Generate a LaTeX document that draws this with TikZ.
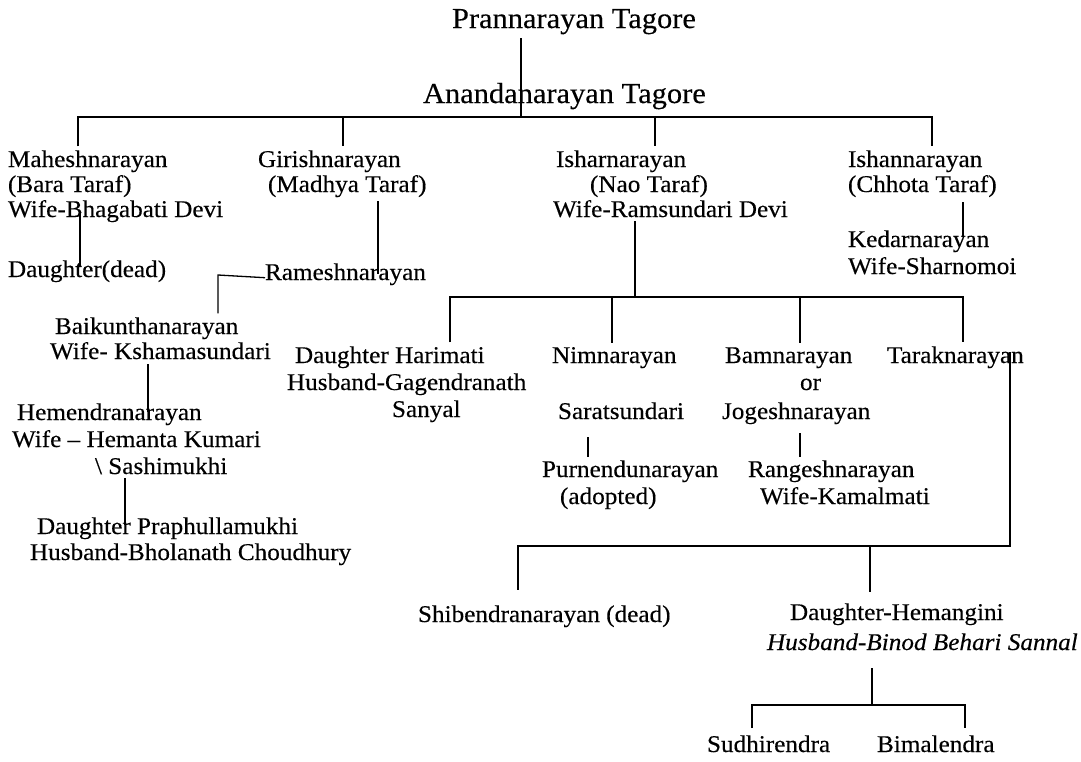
\documentclass[tikz,border=0pt]{standalone}
\usepackage{fontspec}
\setmainfont{Liberation Serif}[FakeStretch=1.05, FakeBold=0.3]
\begin{document}
\begin{tikzpicture}[x=1pt,y=-1pt,
  person/.style={anchor=base west, inner sep=0pt, outer xsep=0pt, outer ysep=4pt,
                 font=\fontsize{24}{26}\selectfont},
  elder/.style={person, font=\fontsize{29}{32}\selectfont},
  link/.style={line width=1.3pt}]
\useasboundingbox (0,0) rectangle (1081,761);

% ---- founders ----
\node[elder] (pran) at (452,28)  {Prannarayan Tagore};
\node[elder] (anan) at (423,103) {Anandanarayan Tagore};

% ---- the four branches ----
\node[person] (mah1)  at (8,167)   {Maheshnarayan};
\node[person] (mah2)  at (8,192)   {(Bara Taraf)};
\node[person] (mah3)  at (8,217)   {Wife-Bhagabati Devi};
\node[person] (gir1)  at (258,167) {Girishnarayan};
\node[person] (gir2)  at (268,192) {(Madhya Taraf)};
\node[person] (ish1)  at (556,167) {Isharnarayan};
\node[person] (ish2)  at (590,192) {(Nao Taraf)};
\node[person] (ish3)  at (553,217) {Wife-Ramsundari Devi};
\node[person] (ishn1) at (848,167) {Ishannarayan};
\node[person] (ishn2) at (848,192) {(Chhota Taraf)};

% ---- Chhota Taraf ----
\node[person] (ked1) at (848,247) {Kedarnarayan};
\node[person] (ked2) at (848,274) {Wife-Sharnomoi};

% ---- Bara and Madhya Taraf ----
\node[person] (mdau) at (8,277)   {Daughter(dead)};
\node[person] (ram)  at (265,280) {Rameshnarayan};
\node[person] (bai1) at (55,334)  {Baikunthanarayan};
\node[person] (bai2) at (50,359)  {Wife- Kshamasundari};
\node[person] (hem1) at (17,420)  {Hemendranarayan};
\node[person] (hem2) at (12,447)  {Wife – Hemanta Kumari};
\node[person] (hem3) at (95,474)  {\textbackslash{} Sashimukhi};
\node[person] (pra1) at (37,534)  {Daughter Praphullamukhi};
\node[person] (pra2) at (30,560)  {Husband-Bholanath Choudhury};

% ---- Nao Taraf ----
\node[person] (har1) at (295,363) {Daughter Harimati};
\node[person] (har2) at (287,390) {Husband-Gagendranath};
\node[person] (har3) at (392,417) {Sanyal};
\node[person] (nim1) at (552,363) {Nimnarayan};
\node[person] (nim2) at (558,419) {Saratsundari};
\node[person] (pur1) at (542,477) {Purnendunarayan};
\node[person] (pur2) at (560,504) {(adopted)};
\node[person] (bam1) at (725,363) {Bamnarayan};
\node[person] (bam2) at (800,390) {or};
\node[person] (bam3) at (722,419) {Jogeshnarayan};
\node[person] (ran1) at (748,477) {Rangeshnarayan};
\node[person] (ran2) at (760,504) {Wife-Kamalmati};
\node[person] (tar)  at (887,363) {Taraknarayan};
\node[person] (shi)  at (418,622) {Shibendranarayan (dead)};
\node[person] (hmg1) at (790,620) {Daughter-Hemangini};
\node[person] (hmg2) at (767,650) {\itshape Husband-Binod Behari Sannal};
\node[person] (sud)  at (707,752) {Sudhirendra};
\node[person] (bim)  at (877,752) {Bimalendra};

% ---- junction points ----
\coordinate (b1A) at (521,117);
\coordinate (b1M) at (78,117);
\coordinate (b1G) at (343,117);
\coordinate (b1I) at (655,117);
\coordinate (b1S) at (932,117);

\coordinate (mvT) at (80,212);   \coordinate (mvB) at (80,266);
\coordinate (gvB) at (378,274);
\coordinate (rhk) at (218,275);
\coordinate (bvT) at (148,364);  \coordinate (bvB) at (148,412);
\coordinate (hvT) at (125,478);  \coordinate (hvB) at (125,525);
\coordinate (kvT) at (963,202);  \coordinate (kvB) at (963,237);

\coordinate (b2a) at (450,297);
\coordinate (b2b) at (612,297);
\coordinate (b2i) at (635,297);
\coordinate (b2c) at (800,297);
\coordinate (b2d) at (963,297);

\coordinate (svT) at (588,437);  \coordinate (svB) at (588,457);
\coordinate (jvT) at (800,433);  \coordinate (jvB) at (800,457);

\coordinate (tvT) at (1010,352);
\coordinate (b3a) at (518,546);  \coordinate (b3aB) at (518,590);
\coordinate (b3b) at (870,546);  \coordinate (b3bB) at (870,592);
\coordinate (b3c) at (1010,546);

\coordinate (hgT) at (872,668);
\coordinate (b4a) at (752,705);  \coordinate (b4aB) at (752,728);
\coordinate (b4m) at (872,705);
\coordinate (b4b) at (965,705);  \coordinate (b4bB) at (965,728);

% ---- connectors ----
\draw[link] (pran.south -| b1A) -- (b1A);
\draw[link] (mah1.north -| b1M) -- (b1M) -- (b1S) -- (ishn1.north -| b1S);
\draw[link] (b1G) -- (gir1.north -| b1G);
\draw[link] (b1I) -- (ish1.north -| b1I);

\draw[link] (mvT) -- (mvB);
\draw[link] (gir2.south -| gvB) -- (gvB);
\draw[link] (ram.mid west) -- (rhk) -- (bai1.north -| rhk);
\draw[link] (bvT) -- (bvB);
\draw[link] (hvT) -- (hvB);
\draw[link] (kvT) -- (kvB);

\draw[link] (ish3.south -| b2i) -- (b2i);
\draw[link] (har1.north -| b2a) -- (b2a) -- (b2d) -- (tar.north -| b2d);
\draw[link] (b2b) -- (nim1.north -| b2b);
\draw[link] (b2c) -- (bam1.north -| b2c);
\draw[link] (svT) -- (svB);
\draw[link] (jvT) -- (jvB);

\draw[link] (tvT) -- (b3c) -- (b3a) -- (b3aB);
\draw[link] (b3b) -- (b3bB);

\draw[link] (hgT) -- (b4m);
\draw[link] (b4aB) -- (b4a) -- (b4b) -- (b4bB);
\end{tikzpicture}
\end{document}
